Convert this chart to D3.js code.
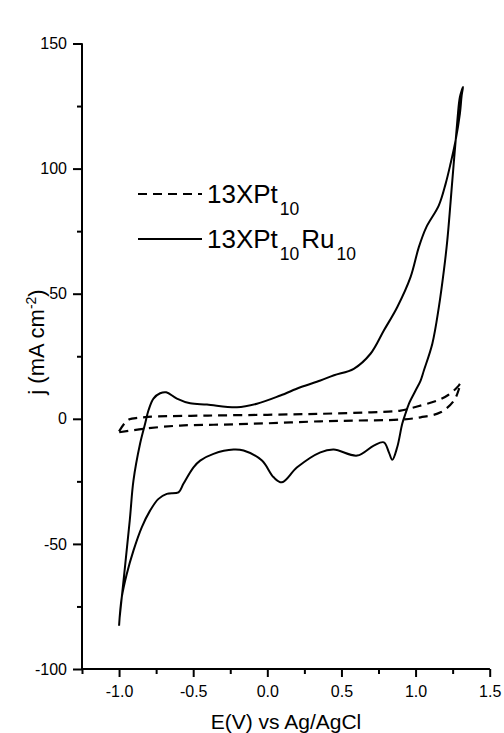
<!DOCTYPE html>
<html><head><meta charset="utf-8">
<script src="https://cdn.jsdelivr.net/npm/d3@7/dist/d3.min.js"></script>
<style>
body{margin:0;background:#fff}
svg{display:block}
text{font-family:"Liberation Sans",Arial,sans-serif;fill:#000}
</style>
</head><body>
<svg id="chart" width="504" height="733"></svg>
<script>
// ---- data ----
const ptRuE = [-0.996,-0.928,-0.903,-0.858,-0.824,-0.802,-0.768,-0.723,-0.682,-0.610,-0.520,-0.407,-0.205,-0.070,0.088,0.223,0.358,0.450,0.583,0.696,0.786,0.876,0.966,1.022,1.072,1.157,1.203,1.236,1.270,1.299,1.311,1.320,
  1.299,1.282,1.248,1.214,1.191,1.157,1.113,1.056,1.034,1.000,0.955,0.932,0.910,0.876,0.843,0.820,0.786,0.718,0.606,0.448,0.358,0.201,0.099,0.043,-0.036,-0.160,-0.228,-0.363,-0.453,-0.498,-0.566,-0.599,-0.678,-0.734,-0.791,-0.847,-0.903,-0.948,-0.982,-1.000];
const ptRuJ = [-79.4,-40.7,-24.7,-9.9,-1.9,3.3,8.1,10.2,10.6,8.1,6.2,5.7,4.6,6.0,9.3,12.6,15.3,17.4,20.0,26.0,35.3,44.6,56.6,68.6,76.5,85.3,94.0,102.0,111.3,122.0,129.3,132.6,
  128.6,119.3,95.3,71.3,59.3,44.6,30.0,19.3,15.3,11.3,6.0,2.1,-2.0,-11.4,-16.4,-13.4,-9.4,-10.7,-14.7,-12.3,-13.4,-19.4,-25.4,-23.4,-16.7,-12.7,-12.3,-14.0,-16.7,-19.4,-26.0,-29.4,-30.0,-32.0,-36.7,-43.4,-52.7,-62.0,-71.4,-82.7];

const ptE = [-1.000,-0.960,-0.930,-0.870,-0.760,-0.400,0.000,0.360,0.700,0.899,1.011,1.146,1.220,1.281,1.304,
  1.293,1.259,1.169,1.034,0.899,0.600,0.358,0.000,-0.300,-0.588,-0.835,-1.000];
const ptJ = [-5.0,-1.6,-0.2,0.4,0.9,1.3,1.6,2.0,2.6,3.3,4.9,7.3,9.5,12.6,14.2,
  12.0,7.3,2.6,0.6,-0.3,-0.7,-1.0,-1.8,-2.3,-2.7,-4.0,-5.4];

const xMajor = [-1.0,-0.5,0.0,0.5,1.0,1.5];
const xMinor = [-1.25,-0.75,-0.25,0.25,0.75,1.25];
const yMajor = [-100,-50,0,50,100,150];
const yMinor = [-75,-25,25,75,125];

const seriesNames = ["13XPt", "13XPt"];

// ---- drawing ----
const svg = d3.select("#chart");
const x = d3.scaleLinear().domain([-1.25, 1.5]).range([82, 489.7]);
const y = d3.scaleLinear().domain([-100, 150]).range([669, 43.5]);

const fmtX = d => d.toFixed(1);
const fmtY = d => String(d);

// x axis
const gx = svg.append("g").attr("transform", `translate(0,${y(-100)})`);
gx.call(d3.axisBottom(x).tickValues(xMajor).tickSize(8).tickPadding(9).tickFormat(fmtX));
gx.append("g").call(d3.axisBottom(x).tickValues(xMinor).tickSize(5).tickFormat(""));
// y axis
const gy = svg.append("g").attr("transform", `translate(${x(-1.25)},0)`);
gy.call(d3.axisLeft(y).tickValues(yMajor).tickSize(9).tickPadding(6).tickFormat(fmtY));
gy.append("g").call(d3.axisLeft(y).tickValues(yMinor).tickSize(5).tickFormat(""));

svg.selectAll(".domain").attr("stroke", "#000").attr("stroke-width", 2);
svg.selectAll(".tick line").attr("stroke", "#000").attr("stroke-width", 2);
svg.selectAll(".tick text").attr("font-size", 16).attr("font-family", '"Liberation Sans",Arial,sans-serif').attr("fill", "#000");
gx.selectAll(".domain").attr("d", `M${x(-1.25)},0H${x(1.5)}`);
gy.selectAll(".domain").attr("d", `M0,${y(-100)}V${y(150)}`);

const line = d3.line().x(d => x(d[0])).y(d => y(d[1])).curve(d3.curveCatmullRom.alpha(0.5));

svg.append("path")
  .datum(ptE.map((e, i) => [e, ptJ[i]]))
  .attr("d", line).attr("fill", "none").attr("stroke", "#000")
  .attr("stroke-width", 2.2).attr("stroke-dasharray", "9,6");

svg.append("path")
  .datum(ptRuE.map((e, i) => [e, ptRuJ[i]]))
  .attr("d", line).attr("fill", "none").attr("stroke", "#000")
  .attr("stroke-width", 2);

// legend
svg.append("line").attr("x1", 138).attr("x2", 202).attr("y1", 194).attr("y2", 194)
  .attr("stroke", "#000").attr("stroke-width", 2.2).attr("stroke-dasharray", "9,6");
svg.append("line").attr("x1", 138).attr("x2", 202).attr("y1", 239).attr("y2", 239)
  .attr("stroke", "#000").attr("stroke-width", 2);

const t1 = svg.append("text").attr("x", 207).attr("y", 203).attr("font-size", 26);
t1.append("tspan").text(seriesNames[0]);
t1.append("tspan").attr("font-size", 17.5).attr("dy", 12).attr("dx", 2).text("10");

const t2 = svg.append("text").attr("x", 207).attr("y", 248).attr("font-size", 26);
t2.append("tspan").text(seriesNames[1]);
t2.append("tspan").attr("font-size", 17.5).attr("dy", 12).attr("dx", 2).text("10");
t2.append("tspan").attr("dy", -12).attr("dx", 2).text("Ru");
t2.append("tspan").attr("font-size", 17.5).attr("dy", 12).attr("dx", 2).text("10");

// axis titles
svg.append("text").attr("x", 286).attr("y", 729).attr("text-anchor", "middle")
  .attr("font-size", 21).text("E(V) vs Ag/AgCl");

const yl = svg.append("text").attr("transform", "translate(44,342) rotate(-90)")
  .attr("text-anchor", "middle").attr("font-size", 22);
yl.append("tspan").text("j (mA cm");
yl.append("tspan").attr("font-size", 14).attr("dy", -8).text("-2");
yl.append("tspan").attr("dy", 8).text(")");
</script>
</body></html>
